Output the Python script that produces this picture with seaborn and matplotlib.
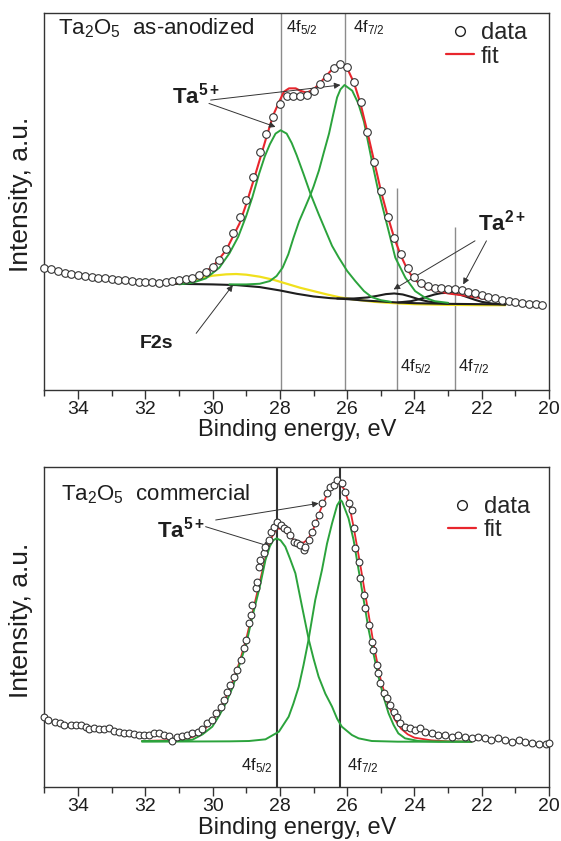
import matplotlib
matplotlib.use("Agg")
import matplotlib.pyplot as plt
from matplotlib.lines import Line2D
from matplotlib.ticker import MultipleLocator
import seaborn as sns

# ---------------- top panel: Ta2O5 as-anodized ----------------
top_data_e = [35.0, 34.8, 34.6, 34.4, 34.2, 34.0, 33.8, 33.6, 33.4, 33.2,
              33.0, 32.8, 32.6, 32.4, 32.2, 32.0, 31.8, 31.6, 31.4, 31.2,
              31.0, 30.8, 30.6, 30.4, 30.2, 30.0, 29.8, 29.6, 29.4, 29.2,
              29.0, 28.8, 28.6, 28.4, 28.2, 28.0, 27.8, 27.6, 27.4, 27.2,
              27.0, 26.8, 26.6, 26.4, 26.2, 26.0, 25.8, 25.6, 25.4, 25.2,
              25.0, 24.8, 24.6, 24.4, 24.2, 24.0, 23.8, 23.6, 23.4, 23.2,
              23.0, 22.8, 22.6, 22.4, 22.2, 22.0, 21.8, 21.6, 21.4, 21.2,
              21.0, 20.8, 20.6, 20.4, 20.2]
top_data_i = [365, 360, 355, 350, 347, 343, 340, 337, 335, 333,
              330, 328, 327, 325, 323, 322, 321, 320, 322, 325,
              327, 330, 335, 343, 353, 368, 389, 420, 467, 517,
              567, 635, 710, 763, 815, 853, 877, 877, 877, 879,
              893, 913, 935, 960, 973, 963, 920, 860, 770, 680,
              593, 517, 453, 405, 365, 337, 320, 310, 305, 303,
              302, 301, 298, 293, 288, 283, 278, 273, 268, 265,
              262, 260, 258, 257, 255]

top_fit_e = [31.2, 30.8, 30.4, 30.0, 29.6, 29.2, 29.0, 28.8, 28.6, 28.4, 28.2, 28.0,
             27.88, 27.73, 27.53, 27.4, 27.2, 27.0, 26.8, 26.6, 26.4, 26.2, 26.0,
             25.8, 25.6, 25.4, 25.2, 25.0, 24.8, 24.6, 24.4, 24.2, 24.0, 23.8,
             23.6, 23.4, 23.2, 23.0, 22.6, 22.2, 21.8]
top_fit_i = [317, 327, 343, 367, 417, 497, 555, 620, 687, 755, 820, 865,
             890, 900, 900, 893, 887, 897, 917, 940, 962, 975, 960,
             917, 853, 770, 683, 595, 520, 453, 400, 357, 330, 313,
             303, 297, 293, 288, 283, 277, 270]

top_p1_e = [31.0, 30.6, 30.2, 29.8, 29.5, 29.24, 29.0, 28.82, 28.62, 28.45, 28.3,
            28.13, 27.98, 27.8, 27.65, 27.5, 27.3, 27.09, 26.85, 26.64, 26.45,
            26.25, 26.0, 25.76, 25.5, 25.27, 25.0, 24.7]
top_p1_i = [315, 320, 333, 365, 408, 457, 520, 575, 645, 697, 733,
            765, 775, 765, 737, 700, 645, 585, 525, 475, 430,
            395, 355, 325, 295, 277, 268, 263]

top_p2_e = [29.5, 29.0, 28.6, 28.3, 28.1, 27.92, 27.75, 27.6, 27.43, 27.25, 27.09,
            27.0, 26.84, 26.7, 26.54, 26.42, 26.3, 26.2, 26.08, 25.85, 25.67,
            25.5, 25.37, 25.25, 25.1, 25.02, 24.77, 24.57, 24.27, 23.98, 23.68,
            23.4, 23.0]
top_p2_i = [315, 315, 317, 325, 340, 365, 405, 453, 503, 545, 583,
            607, 655, 707, 765, 820, 873, 897, 910, 893, 855,
            800, 735, 675, 605, 575, 475, 395, 335, 295, 275,
            265, 260]

top_bg_e = [31.2, 30.0, 29.3, 28.6, 28.0, 27.5, 27.0, 26.5, 26.0, 25.5, 25.0,
            24.5, 24.0, 23.0, 22.0, 21.3]
top_bg_i = [317, 315, 313, 307, 297, 287, 279, 274, 271, 267, 264,
            261, 259, 257, 256, 255]

top_f2s_e = [31.1, 30.8, 30.4, 30.0, 29.6, 29.3, 29.0, 28.6, 28.2, 27.8, 27.4,
             27.0, 26.6, 26.2, 25.8, 25.2, 24.6, 24.0, 23.0, 22.0, 21.3]
top_f2s_i = [317, 322, 333, 341, 345, 346, 344, 338, 329, 317, 305,
             295, 285, 276, 270, 263, 259, 256, 254, 253, 253]

top_ta2a_e = [26.3, 25.8, 25.4, 25.1, 24.85, 24.6, 24.35, 24.1, 23.85, 23.6, 23.3, 23.0]
top_ta2a_i = [273, 273, 276, 281, 286, 288, 285, 278, 270, 264, 260, 258]
top_ta2b_e = [24.5, 24.1, 23.85, 23.6, 23.4, 23.2, 23.0, 22.8, 22.6, 22.4, 22.2,
              22.0, 21.7, 21.3]
top_ta2b_i = [261, 265, 271, 279, 285, 289, 290, 288, 283, 276, 269,
              263, 258, 255]

top_ta5_lines = [27.98, 26.08]
top_ta2_lines = [24.53, 22.8]
top_ta2_tops = [603, 485]

# ---------------- bottom panel: Ta2O5 commercial ----------------
bot_data_e = [35.0, 34.9, 34.7, 34.55, 34.41, 34.21, 34.06, 33.91, 33.76, 33.67,
              33.52, 33.37, 33.22, 33.07, 32.92, 32.78, 32.63, 32.48, 32.33, 32.18,
              32.04, 31.89, 31.74, 31.59, 31.44, 31.29, 31.2, 31.05, 30.9, 30.75,
              30.6, 30.45, 30.31, 30.16, 30.01, 29.91, 29.76, 29.66, 29.56, 29.47,
              29.37, 29.27, 29.17, 29.07, 29.02, 28.92, 28.87, 28.82, 28.72, 28.68,
              28.63, 28.58, 28.48, 28.43, 28.33, 28.28, 28.18, 28.08, 27.98, 27.89,
              27.79, 27.69, 27.59, 27.49, 27.39, 27.29, 27.24, 27.14, 27.04, 26.95,
              26.85, 26.75, 26.6, 26.5, 26.4, 26.3, 26.15, 26.06, 25.96, 25.86,
              25.81, 25.76, 25.66, 25.61, 25.51, 25.46, 25.36, 25.27, 25.22, 25.12,
              25.07, 25.02, 24.92, 24.82, 24.72, 24.62, 24.52, 24.43, 24.28, 24.13,
              23.98, 23.83, 23.68, 23.49, 23.29, 23.09, 22.89, 22.7, 22.5, 22.3,
              22.1, 21.91, 21.71, 21.51, 21.31, 21.11, 20.9, 20.7, 20.5, 20.3,
              20.1, 20.0]
bot_data_i = [211, 201, 196, 191, 186, 186, 186, 186, 181, 173,
              176, 173, 173, 176, 169, 166, 161, 161, 159, 156,
              156, 156, 161, 161, 156, 153, 139, 151, 153, 156,
              161, 166, 173, 191, 201, 221, 241, 261, 286, 306,
              331, 351, 381, 416, 441, 491, 516, 546, 596, 616,
              661, 681, 701, 721, 741, 766, 781, 796, 786, 776,
              771, 756, 736, 731, 726, 711, 721, 741, 766, 791,
              816, 851, 881, 901, 906, 921, 911, 886, 851, 831,
              776, 716, 676, 626, 576, 536, 486, 436, 411, 366,
              341, 311, 281, 266, 246, 226, 211, 191, 181, 176,
              171, 176, 166, 161, 156, 156, 151, 156, 151, 146,
              151, 146, 141, 146, 141, 136, 140, 136, 133, 130,
              128, 133]

bot_fit_e = [32.1, 31.0, 30.6, 30.4, 30.2, 30.0, 29.8, 29.6, 29.4, 29.2, 29.0,
             28.8, 28.6, 28.4, 28.25, 28.1, 27.95, 27.8, 27.6, 27.45, 27.3, 27.15,
             27.0, 26.8, 26.6, 26.4, 26.25, 26.1, 25.95, 25.8, 25.6, 25.4, 25.2,
             25.0, 24.8, 24.6, 24.4, 24.2, 24.0, 23.5, 23.0, 22.3]
bot_fit_i = [138, 141, 150, 160, 178, 200, 232, 270, 318, 375, 445,
             530, 615, 700, 748, 775, 775, 762, 742, 735, 733, 745,
             775, 830, 878, 905, 912, 895, 852, 775, 660, 540, 420,
             320, 252, 205, 175, 158, 148, 140, 137, 136]

bot_p1_e = [32.1, 31.0, 30.6, 30.3, 30.01, 29.8, 29.61, 29.4, 29.22, 29.0, 28.82,
            28.6, 28.43, 28.3, 28.2, 28.1, 27.98, 27.84, 27.7, 27.54, 27.35, 27.14,
            27.0, 26.85, 26.65, 26.45, 26.3, 26.16, 25.86, 25.66, 25.27, 24.5, 22.3]
bot_p1_i = [138, 138, 142, 158, 181, 215, 251, 300, 361, 430, 511,
            600, 681, 722, 740, 746, 740, 721, 685, 641, 545, 441,
            385, 331, 280, 241, 205, 181, 156, 146, 138, 136, 136]

bot_p2_e = [32.1, 29.5, 28.92, 28.43, 28.03, 27.74, 27.6, 27.44, 27.3, 27.16, 26.95,
            26.75, 26.6, 26.45, 26.3, 26.2, 26.15, 25.96, 25.81, 25.66, 25.51, 25.36,
            25.22, 25.07, 24.92, 24.77, 24.62, 24.48, 24.28, 23.88, 23.29, 22.3]
bot_p2_i = [136, 137, 138, 143, 166, 211, 250, 301, 365, 436, 561,
            651, 730, 791, 845, 861, 856, 806, 741, 651, 561, 471,
            401, 331, 271, 221, 186, 161, 146, 138, 136, 136]

bot_ta5_lines = [28.1, 26.2]

GREEN = "#2ba33c"
RED = "#e8262d"
YELLOW = "#f0e01c"
INK = "#1e1e1e"
GRAY = "#8c8c8c"

sns.set_theme(style="ticks")
plt.rcParams["font.family"] = ["Liberation Sans", "DejaVu Sans"]
plt.rcParams["mathtext.fontset"] = "custom"
plt.rcParams["mathtext.rm"] = "Liberation Sans"
plt.rcParams["mathtext.it"] = "Liberation Sans:italic"
plt.rcParams["mathtext.bf"] = "Liberation Sans:bold"
plt.rcParams["mathtext.default"] = "regular"


def curve(ax, e, i, color, lw=1.3, z=2):
    sns.lineplot(x=e, y=i, ax=ax, color=color, lw=lw, sort=False,
                 estimator=None, zorder=z, legend=False)


def points(ax, e, i, size):
    sns.scatterplot(x=e, y=i, ax=ax, marker="o", s=size, facecolor="white",
                    edgecolor="#333333", linewidth=0.8, zorder=5, legend=False,
                    clip_on=False)


def arrow(ax, start, end):
    ax.annotate("", xy=end, xytext=start,
                arrowprops=dict(arrowstyle="-|>", color="#333333", lw=0.7,
                                mutation_scale=9, shrinkA=0, shrinkB=0))


def style_axes(ax, ymax):
    ax.set_xlim(35, 20)
    ax.set_ylim(0, ymax)
    ax.set_yticks([])
    ax.xaxis.set_major_locator(MultipleLocator(2))
    ax.xaxis.set_minor_locator(MultipleLocator(1))
    ax.tick_params(axis="x", which="major", direction="out", length=6.5, width=1,
                   labelsize=14, pad=1.5, color="#333333", labelcolor=INK)
    ax.tick_params(axis="x", which="minor", direction="out", length=4, width=1,
                   color="#333333")
    for sp in ax.spines.values():
        sp.set_color("#333333")
        sp.set_linewidth(1.0)
    ax.set_xlabel("Binding energy, eV", fontsize=17, labelpad=1, color=INK)
    ax.set_ylabel("Intensity, a.u.", fontsize=19, color=INK)
    ax.yaxis.set_label_coords(-0.022, 0.52)


def add_legend(ax, anchor):
    handles = [Line2D([], [], ls="none", marker="o", mfc="white", mec="#222222",
                      ms=7, mew=1),
               Line2D([], [], color=RED, lw=1.6)]
    ax.legend(handles, ["data", "fit"], loc="upper left", bbox_to_anchor=anchor,
              frameon=False, fontsize=17, handlelength=1.2, handletextpad=0.3,
              labelspacing=0.05, borderpad=0, borderaxespad=0)


fig = plt.figure(figsize=(5.61, 8.41), dpi=100)
ax1 = fig.add_axes([0.0793, 0.5363, 0.8993, 0.4483])
ax2 = fig.add_axes([0.0793, 0.0642, 0.8993, 0.3805])

# ---- top ----
ax1.vlines(top_ta5_lines, 0, 1125, color=GRAY, lw=1.0, zorder=1)
ax1.vlines(top_ta2_lines, 0, top_ta2_tops, color=GRAY, lw=1.0, zorder=1)
curve(ax1, top_f2s_e, top_f2s_i, YELLOW, lw=1.6)
curve(ax1, top_bg_e, top_bg_i, INK, lw=1.5)
curve(ax1, top_ta2a_e, top_ta2a_i, INK, lw=1.5)
curve(ax1, top_ta2b_e, top_ta2b_i, INK, lw=1.5)
curve(ax1, top_p1_e, top_p1_i, GREEN, lw=1.4)
curve(ax1, top_p2_e, top_p2_i, GREEN, lw=1.4)
curve(ax1, top_fit_e, top_fit_i, RED, lw=1.5, z=3)
points(ax1, top_data_e, top_data_i, 30)
style_axes(ax1, 1125)

ax1.text(34.585, 1060, r"Ta$_2$O$_5$  as-anodized", fontsize=16, color=INK,
         ha="left", va="baseline")
ax1.text(27.81, 1066, r"4f$_{5/2}$", fontsize=12, color=INK, ha="left", va="baseline")
ax1.text(25.84, 1066, r"4f$_{7/2}$", fontsize=12, color=INK, ha="left", va="baseline")
ax1.text(24.42, 55, r"4f$_{5/2}$", fontsize=12, color=INK, ha="left", va="baseline")
ax1.text(22.70, 55, r"4f$_{7/2}$", fontsize=12, color=INK, ha="left", va="baseline")
ax1.text(31.2, 856, r"$\mathbf{Ta}^{\mathbf{5+}}$", fontsize=16, color=INK,
         ha="left", va="baseline")
ax1.text(22.1, 475, r"$\mathbf{Ta}^{\mathbf{2+}}$", fontsize=16, color=INK,
         ha="left", va="baseline")
ax1.text(32.18, 124, "F2s", fontsize=14, fontweight="bold", color=INK,
         ha="left", va="baseline")
arrow(ax1, (30.06, 865), (26.2, 910))
arrow(ax1, (30.11, 855), (28.13, 785))
arrow(ax1, (22.2, 445), (24.62, 300))
arrow(ax1, (21.86, 445), (22.55, 315))
arrow(ax1, (30.49, 169), (29.4, 313))
add_legend(ax1, (0.795, 0.975))

# ---- bottom ----
ax2.vlines(bot_ta5_lines, 0, 960, color="#333333", lw=1.5, zorder=1)
curve(ax2, bot_p1_e, bot_p1_i, GREEN, lw=1.4)
curve(ax2, bot_p2_e, bot_p2_i, GREEN, lw=1.4)
curve(ax2, bot_fit_e, bot_fit_i, RED, lw=1.3, z=1.5)
points(ax2, bot_data_e, bot_data_i, 24)
style_axes(ax2, 960)

ax2.text(34.5, 861, r"Ta$_2$O$_5$  commercial", fontsize=16, color=INK,
         ha="left", va="baseline")
ax2.text(31.64, 750, r"$\mathbf{Ta}^{\mathbf{5+}}$", fontsize=16, color=INK,
         ha="left", va="baseline")
ax2.text(29.17, 51, r"4f$_{5/2}$", fontsize=12, color=INK, ha="left", va="baseline")
ax2.text(26.01, 51, r"4f$_{7/2}$", fontsize=12, color=INK, ha="left", va="baseline")
arrow(ax2, (29.91, 801), (26.85, 851))
arrow(ax2, (30.21, 781), (28.28, 721))
add_legend(ax2, (0.80, 0.91))

fig.savefig("out.png", dpi=100)
